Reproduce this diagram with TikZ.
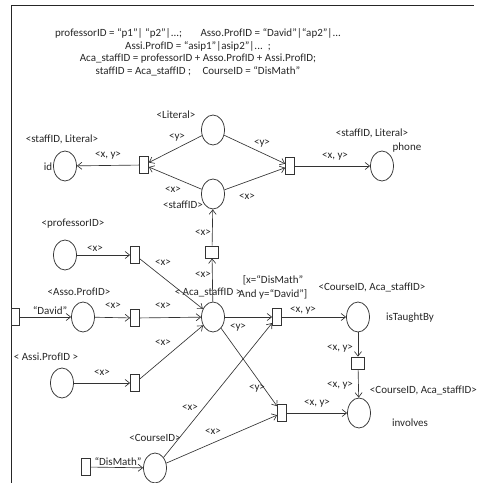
\documentclass[tikz,border=0pt]{standalone}
\usepackage{fontspec}
\setmainfont{Carlito}
\usetikzlibrary{shapes.geometric,arrows.meta}
\begin{document}
\begin{tikzpicture}[x=1pt,y=-1pt,
  place/.style={draw=black!80, ellipse, minimum width=23pt, minimum height=30pt, inner sep=0pt, line width=0.75pt},
  trans/.style={draw=black!80, rectangle, minimum width=9pt, minimum height=17pt, inner sep=0pt, line width=0.75pt},
  sqtrans/.style={draw=black!80, rectangle, minimum width=13pt, minimum height=12pt, inner sep=0pt, line width=0.75pt},
  arc/.style={draw=black!80, line width=0.65pt, -{Straight Barb[length=4.5pt,width=7pt]}},
  frame/.style={draw=black!85, line width=0.8pt},
  lbl/.style={font=\fontsize{11}{12}\selectfont, text=black!85, inner sep=0pt},
]
\useasboundingbox (0,0) rectangle (479,483);
\coordinate (fb) at (11,483);
\coordinate (fc) at (11,5);
\coordinate (fr) at (474,5);
\draw[frame] (fb) -- (fc) -- (fr);

% header
\node[lbl, align=center, font=\fontsize{11}{12.5}\selectfont] (head) at (198,52.5)
 {professorID = “p1”| “p2”|...;\hspace{16pt} Asso.ProfID = “David”|“ap2”|...\\
  Assi.ProfID = “asip1”|asip2”|...\ \ ;\\
  Aca\_staffID = professorID + Asso.ProfID + Assi.ProfID;\\
  staffID = Aca\_staffID ;\hspace{9pt} CourseID = “DisMath”};

% places
\node[place] (lit) at (213,130) {};
\node[place] (sid) at (213,194) {};
\node[place] (id) at (65,166) {};
\node[place] (ph) at (382,166) {};
\node[place] (aca) at (213,317) {};
\node[place] (prof) at (65,255) {};
\node[place] (asso) at (83,317) {};
\node[place] (assi) at (62,383) {};
\node[place] (itb) at (358,317) {};
\node[place] (inv) at (359,413) {};
\node[place] (cid) at (155,468) {};

% transitions
\node[trans] (tl) at (144,165) {};
\node[trans] (tr) at (290,166) {};
\node[sqtrans] (ts) at (212,252) {};
\node[trans] (tp) at (135,255) {};
\node[trans, minimum width=8pt] (src1) at (15,317) {};
\node[trans] (ta) at (135,318) {};
\node[trans] (ti) at (135,383) {};
\node[trans] (tg) at (277,317) {};
\node[sqtrans] (tb) at (358,363) {};
\node[trans] (tv) at (282,413) {};
\node[trans] (src2) at (86,467) {};

% arcs
\draw[arc] (lit) -- (tl);
\draw[arc] (sid) -- (tl);
\draw[arc] (tl) -- (id);
\draw[arc] (lit) -- (tr);
\draw[arc] (sid) -- (tr);
\draw[arc] (tr) -- (ph);
\draw[arc] (ts) -- (sid);
\draw[arc] (aca) -- (ts);
\draw[arc] (prof) -- (tp);
\draw[arc] (tp) -- (aca);
\draw[arc] (src1) -- (asso);
\draw[arc] (asso) -- (ta);
\draw[arc] (ta) -- (aca);
\draw[arc] (assi) -- (ti);
\draw[arc] (ti) -- (aca);
\draw[arc] (aca) -- (tg);
\draw[arc] (cid) -- (tg);
\draw[arc] (tg) -- (itb);
\draw[arc] (itb) -- (tb);
\draw[arc] (tb) -- (inv);
\draw[arc] (aca) -- (tv);
\draw[arc] (cid) -- (tv);
\draw[arc] (tv) -- (inv);
\draw[arc] (src2) -- (cid);

% place labels
\node[lbl] (l1) at (176,115) {<Literal>};
\node[lbl] (l2) at (62,139) {<staffID, Literal>};
\node[lbl] (l3) at (48,167) {id};
\node[lbl] (l4) at (183,205) {<staffID>};
\node[lbl] (l5) at (372,133) {<staffID, Literal>};
\node[lbl] (l6) at (407,148) {phone};
\node[lbl] (l7) at (73,224) {<professorID>};
\node[lbl] (l8) at (79,292) {<Asso.ProfID>};
\node[lbl] (l9) at (46,357) {< Assi.ProfID >};
\node[lbl] (l10) at (208,292) {< Aca\_staffID >};
\node[lbl, align=center, font=\fontsize{11}{14}\selectfont] (l11) at (273,287) {[x=“DisMath”\\And y=“David”]};
\node[lbl] (l12) at (372,287) {<CourseID, Aca\_staffID>};
\node[lbl] (l13) at (410,318) {isTaughtBy};
\node[lbl, anchor=east] (l14) at (477,390) {<CourseID, Aca\_staffID>};
\node[lbl] (l15) at (410,423) {involves};
\node[lbl] (l16) at (155,438) {<CourseID>};
\node[lbl] (l17) at (50,311) {“David”};
\node[lbl] (l18) at (118,462) {“DisMath”};

% arc labels
\node[lbl] (a1) at (177,137) {<y>};
\node[lbl] (a2) at (173,190) {<x>};
\node[lbl] (a3) at (108,155) {<x, y>};
\node[lbl] (a4) at (262,143) {<y>};
\node[lbl] (a5) at (247,197) {<x>};
\node[lbl] (a6) at (335,157) {<x, y>};
\node[lbl] (a7) at (203,233) {<x>};
\node[lbl] (a8) at (203,275) {<x>};
\node[lbl] (a9) at (95,249) {<x>};
\node[lbl] (a10) at (163,263) {<x>};
\node[lbl] (a11) at (113,306) {<x>};
\node[lbl] (a12) at (163,306) {<x>};
\node[lbl] (a13) at (102,373) {<x>};
\node[lbl] (a14) at (163,343) {<x>};
\node[lbl] (a15) at (238,327) {<y>};
\node[lbl] (a16) at (303,310) {<x, y>};
\node[lbl] (a17) at (340,348) {<x, y>};
\node[lbl] (a18) at (340,385) {<x, y>};
\node[lbl] (a19) at (257,388) {<y>};
\node[lbl] (a20) at (317,403) {<x, y>};
\node[lbl] (a21) at (190,408) {<x>};
\node[lbl] (a22) at (213,432) {<x>};
\end{tikzpicture}
\end{document}
